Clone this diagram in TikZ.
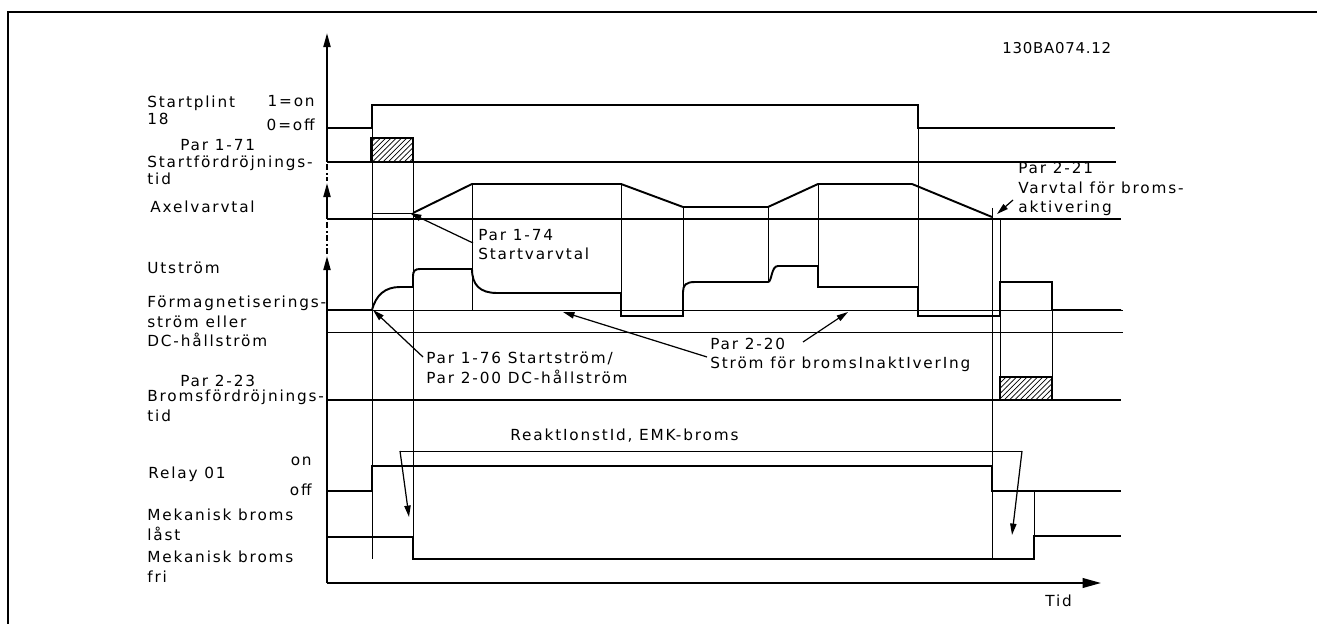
\documentclass[tikz,border=0pt]{standalone}
\usepackage{fontspec}
\setmainfont{DejaVu Sans}[LetterSpace=12]
\usetikzlibrary{arrows.meta,patterns}

\begin{document}
\begin{tikzpicture}[x=0.02cm,y=-0.02cm,line join=miter,
  font=\fontsize{8.7}{11.3}\selectfont,
  sig/.style={line width=1.1pt},
  ref/.style={line width=0.55pt},
  axisline/.style={line width=1.1pt,-{Triangle[length=8pt,width=4pt]}},
  axisbreak/.style={line width=0.8pt,dash pattern=on 3.5pt off 1.5pt on 1pt off 1.5pt},
  ptr/.style={line width=0.7pt,-{Triangle[length=6.5pt,width=3.6pt]}},
  hatchbox/.style={line width=1pt,pattern=north east lines},
  lbl/.style={anchor=base west,inner sep=0pt,align=left},
  lblr/.style={anchor=base east,inner sep=0pt},
  tight/.style={font=\fontsize{8.7}{9.8}\selectfont}]
\useasboundingbox (0,0) rectangle (1317,624);
\draw[line width=1.2pt] (8,624) -- (8,12) -- (1317,12);
\node[lbl,font=\fontsize{8.5}{11.3}\selectfont\addfontfeature{LetterSpace=5}] (docid) at (1002,54) {130BA074.12};
% axes
\draw[axisline] (327,162) -- (327,33);
\draw[axisbreak] (327,164) -- (327,181);
\draw[axisline] (327,219) -- (327,183);
\draw[axisbreak] (327,222) -- (327,254);
\draw[axisline] (327,583) -- (327,256);
\draw[line width=1.1pt,-{Triangle[length=10.5pt,width=5.5pt]}] (327,583) -- (1101,583);
\node[lbl] (tid) at (1045,606) {Tid};
% guide lines
\draw[ref] (372,105) -- (372,559);
\draw[ref] (413,162) -- (413,537);
\draw[ref] (472,184) -- (472,310);
\draw[ref] (621,184) -- (621,293);
\draw[ref] (683,207) -- (683,316);
\draw[ref] (768,207) -- (768,282);
\draw[ref] (818,184) -- (818,266);
\draw[ref] (918,128) -- (918,287);
\draw[ref] (992,208) -- (992,559);
\draw[ref] (1000,219) -- (1000,400);
\draw[ref] (1052,310) -- (1052,377);
\draw[ref] (1034,491) -- (1034,536);
\draw[ref] (327,310) -- (1123,310);
\draw[ref] (327,332) -- (1123,332);
\draw[ref] (372,213) -- (413,213);
% signals
\draw[sig] (327,128) -- (372,128) -- (372,105) -- (918,105) -- (918,128) -- (1115,128);
\draw[sig] (327,162) -- (1116,162);
\draw[hatchbox] (371,138) rectangle (413,162);
\draw[sig] (327,219) -- (1121,219);
\draw[sig] (413,213) -- (472,184) -- (621,184) -- (683,207) -- (768,207) -- (818,184) -- (912,184) -- (992,217);
\draw[sig] (327,310) -- (372,310) .. controls (376,295) and (385,287) .. (400,287) -- (413,287) -- (413,276)
  .. controls (413,271) and (415,269) .. (420,269) -- (472,269) .. controls (472,285) and (480,293) .. (497,293)
  -- (621,293) -- (621,316) -- (683,316) -- (683,292) .. controls (683,285) and (686,282) .. (695,282)
  -- (768,282) .. controls (772,282) and (771,266) .. (778,266) -- (818,266) -- (818,287) -- (918,287)
  -- (918,316) -- (1000,316) -- (1000,282) -- (1052,282) -- (1052,310) -- (1121,310);
\draw[sig] (327,400) -- (1121,400);
\draw[hatchbox] (1000,377) rectangle (1052,400);
\draw[sig] (327,491) -- (372,491) -- (372,466) -- (992,466) -- (992,491) -- (1121,491);
\draw[sig] (327,537) -- (413,537) -- (413,559) -- (1034,559) -- (1034,536) -- (1121,536);
% left labels
\node[lbl,tight] (startplint) at (147,125) {Startplint\\18};
\node[lblr] (on1) at (315,107) {1=on};
\node[lblr] (off0) at (315,131) {0=off};
\node[lbl] (p171) at (180,151) {Par 1-71};
\node[lbl,tight] (sdelay) at (147,185) {Startfördröjnings-\\tid};
\node[lbl] (axel) at (150,213) {Axelvarvtal};
\node[lbl] (utstrom) at (147,274) {Utström};
\node[lbl] (formag) at (147,347) {Förmagnetiserings-\\ström eller\\DC-hållström};
\node[lbl] (p223) at (180,386) {Par 2-23};
\node[lbl] (bdelay) at (147,421) {Bromsfördröjnings-\\tid};
\node[lblr] (relon) at (312,465) {on};
\node[lbl] (relay) at (148,478) {Relay 01};
\node[lblr] (reloff) at (312,495) {off};
\node[lbl] (mlast) at (147,540) {Mekanisk broms\\låst};
\node[lbl] (mfri) at (147,582) {Mekanisk broms\\fri};
% parameter labels
\node[lbl] (p174) at (478,260) {Par 1-74\\Startvarvtal};
\node[lbl] (p176) at (426,383) {Par 1-76 Startström/\\Par 2-00 DC-hållström};
\node[lbl] (p220) at (710,369) {Par 2-20\\Ström för bromsInaktIverIng};
\node[lbl] (p221) at (1018,213) {Par 2-21\\Varvtal för broms-\\aktivering};
\node[lbl] (rtid) at (510,440) {ReaktIonstId, EMK-broms};
\coordinate (s174) at (410,213);
\coordinate (s176) at (373,310);
\coordinate (s220a) at (563,312);
\coordinate (s220b) at (848,312);
\coordinate (s221) at (997,214);
\coordinate (a220b) at (803,342);
\draw[ptr] ([shift={(-5,-17)}]p174.base west) -- (s174);
\draw[ptr] ([shift={(-3,-26)}]p176.base west) -- (s176);
\draw[ptr] ([shift={(-3,-12)}]p220.base west) -- (s220a);
\draw[ptr] (a220b) -- (s220b);
\draw[ptr] ([shift={(-5,-13)}]p221.base west) -- (s221);
% reaction time
\coordinate (rtL) at (400,451);
\coordinate (rtR) at (1022,451);
\coordinate (rtLend) at (409,517);
\coordinate (rtRend) at (1012,535);
\draw[ref] (rtL) -- (rtR);
\draw[ptr] (rtL) -- (rtLend);
\draw[ptr] (rtR) -- (rtRend);
\end{tikzpicture}
\end{document}
